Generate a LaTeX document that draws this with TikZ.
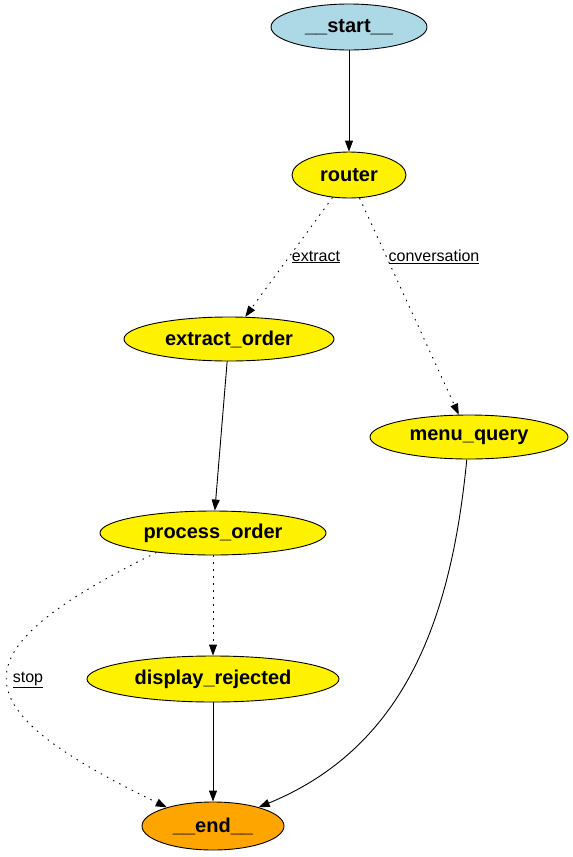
\documentclass[tikz,border=0pt]{standalone}
\usepackage{fontspec}
\setmainfont{Liberation Sans}
\usetikzlibrary{arrows.meta,shapes.geometric}
\definecolor{startblue}{RGB}{173,216,230}
\definecolor{endorange}{RGB}{255,165,0}
\tikzset{
	state/.style={ellipse, draw=black, line width=0.9pt, fill=yellow, inner sep=0pt,
		font=\fontsize{20}{24}\selectfont\bfseries},
	flow/.style={-{Triangle[length=11pt,width=8pt]}, line width=0.9pt},
	branch/.style={flow, dash pattern=on 1.5pt off 5.5pt},
	cond/.style={font=\fontsize{16}{19}\selectfont, inner sep=1pt}
}

\begin{document}
\begin{tikzpicture}[x=1pt, y=-1pt]
		%%%%% START %%%%%
		\useasboundingbox (0, 0) rectangle (573, 857);
		
		\node[state, fill=startblue, minimum width=156, minimum height=46] (start) at (349, 27) {\_\_start\_\_};
		\node[state, minimum width=114, minimum height=46] (router) at (349, 175) {router};
		\node[state, minimum width=210, minimum height=44] (extract_order) at (229, 339) {extract\_order};
		\node[state, minimum width=198, minimum height=44] (menu_query) at (469, 437) {menu\_query};
		\node[state, minimum width=226, minimum height=44] (process_order) at (213, 533) {process\_order};
		\node[state, minimum width=252, minimum height=46] (display_rejected) at (213, 679) {display\_rejected};
		\node[state, fill=endorange, minimum width=142, minimum height=48] (end_node) at (213, 826) {\_\_end\_\_};
		
		\draw[flow] (start) -- (router);
		
		\draw[branch] (router) -- (extract_order);
		\node[cond] (lbl_extract) at (316, 257) {\underline{extract}};
		\draw[branch] (router) -- (menu_query);
		\node[cond] (lbl_conv) at (434, 257) {\underline{conversation}};
		
		\draw[flow] (extract_order) -- (process_order);
		\draw[branch] (process_order) -- (display_rejected);
		\draw[branch] (process_order.199) .. controls (-50, 654) and (-38, 708) .. (end_node.158);
		\node[cond] (lbl_stop) at (28, 680) {\underline{stop}};
		
		\draw[flow] (display_rejected) -- (end_node);
		\draw[flow] (menu_query) .. controls (452, 610) and (410, 745) .. (end_node);
		
		%%%%% END %%%%%
	\end{tikzpicture}
\end{document}
